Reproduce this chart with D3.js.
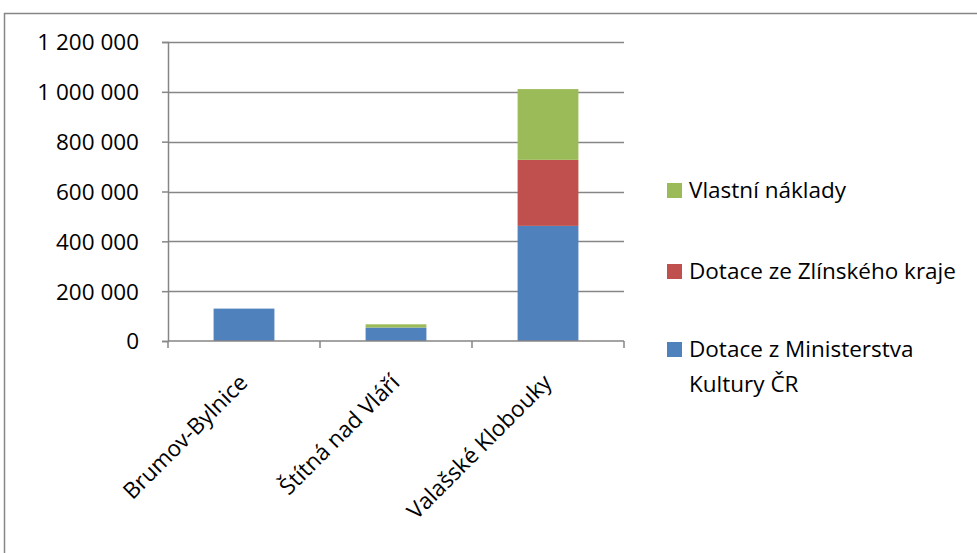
<!DOCTYPE html>
<html>
<head>
<meta charset="utf-8">
<script src="https://cdn.jsdelivr.net/npm/d3@7"></script>
<style>
  body { margin: 0; background: #fff; }
  text { font-family: "Open Sans", sans-serif; fill: #000; }
</style>
</head>
<body>
<div id="chart"></div>
<script>
// chart data
const categories = ["Brumov-Bylnice", "Štítná nad Vláří", "Valašské Klobouky"];
const seriesNames = ["Dotace z Ministerstva Kultury ČR", "Dotace ze Zlínského kraje", "Vlastní náklady"];
const ministerstvo = [130000, 54000, 462000];
const zlinsky = [0, 0, 265000];
const vlastni = [0, 13000, 284000];
const yTicks = [0, 200000, 400000, 600000, 800000, 1000000, 1200000];
const colors = ["#4F81BD", "#C0504D", "#9BBB59"];

const W = 977, H = 553;
const plot = {left: 168, right: 624, top: 42, bottom: 341};
const gridColor = "#868686";

const svg = d3.select("#chart").append("svg")
    .attr("width", W)
    .attr("height", H);

// outer chart frame (runs off the page on right and bottom)
svg.append("rect")
    .attr("x", 4.5).attr("y", 13.5)
    .attr("width", W + 10).attr("height", H + 10)
    .attr("fill", "none")
    .attr("stroke", gridColor)
    .attr("stroke-width", 1.5);

// table for d3.stack
const table = categories.map((c, i) => ({
    cat: c, s0: ministerstvo[i], s1: zlinsky[i], s2: vlastni[i]
}));
const stack = d3.stack().keys(["s0", "s1", "s2"]);
const layers = stack(table);

const x = d3.scaleBand()
    .domain(categories)
    .range([plot.left, plot.right])
    .paddingInner(0.6)
    .paddingOuter(0.3);

const y = d3.scaleLinear()
    .domain([0, 1200000])
    .range([plot.bottom, plot.top]);

const fmt = d3.formatLocale({decimal: ",", thousands: " ", grouping: [3], currency: ["", ""]}).format(",d");

// gridlines
svg.append("g")
    .selectAll("line")
    .data(yTicks.filter(d => d > 0))
    .join("line")
    .attr("x1", plot.left).attr("x2", plot.right)
    .attr("y1", d => Math.round(y(d)) + 0.5)
    .attr("y2", d => Math.round(y(d)) + 0.5)
    .attr("stroke", gridColor)
    .attr("stroke-width", 1.5);

// bars
svg.append("g")
    .selectAll("g")
    .data(layers)
    .join("g")
    .attr("fill", (d, i) => colors[i])
    .selectAll("rect")
    .data(d => d)
    .join("rect")
    .attr("x", d => x(d.data.cat))
    .attr("width", x.bandwidth())
    .attr("y", d => y(d[1]))
    .attr("height", d => y(d[0]) - y(d[1]));

// y axis
const yAxis = d3.axisLeft(y)
    .tickValues(yTicks)
    .tickSize(6)
    .tickPadding(23)
    .tickFormat(fmt);

const gy = svg.append("g")
    .attr("transform", `translate(${plot.left},0)`)
    .call(yAxis);
gy.select(".domain").attr("stroke", gridColor).attr("stroke-width", 1.5);
gy.selectAll(".tick line").attr("stroke", gridColor).attr("stroke-width", 1.5);
gy.selectAll(".tick text")
    .style("font-size", "22.5px")
    .attr("dy", "0.35em");

// x axis: line along zero plus ticks at band boundaries
const step = x.step();
const boundaries = d3.range(categories.length + 1).map(i => plot.left + i * step);
const gx = svg.append("g");
gx.append("line")
    .attr("x1", plot.left).attr("x2", plot.right)
    .attr("y1", y(0)).attr("y2", y(0))
    .attr("stroke", gridColor).attr("stroke-width", 1.5);
gx.selectAll(".xt")
    .data(boundaries)
    .join("line")
    .attr("class", "xt")
    .attr("x1", d => d).attr("x2", d => d)
    .attr("y1", y(0)).attr("y2", y(0) + 7)
    .attr("stroke", gridColor).attr("stroke-width", 1.5);

gx.selectAll(".xl")
    .data(categories)
    .join("text")
    .attr("class", "xl")
    .attr("text-anchor", "end")
    .attr("transform", d => `translate(${x(d) + x.bandwidth() / 2 + 5},${y(0) + 43}) rotate(-45)`)
    .style("font-size", "22.5px")
    .text(d => d);

// legend (reverse order: top series first)
const legendItems = [
    {name: "Vlastní náklady", color: colors[2], lines: ["Vlastní náklady"], y: 190},
    {name: "Dotace ze Zlínského kraje", color: colors[1], lines: ["Dotace ze Zlínského kraje"], y: 271},
    {name: seriesNames[0], color: colors[0], lines: ["Dotace z Ministerstva", "Kultury ČR"], y: 349}
];

const legend = svg.append("g");
const li = legend.selectAll("g")
    .data(legendItems)
    .join("g")
    .attr("transform", d => `translate(667,${d.y})`);
li.append("rect")
    .attr("x", 0).attr("y", -7)
    .attr("width", 15).attr("height", 15)
    .attr("fill", d => d.color);
li.append("text")
    .attr("x", 22)
    .attr("y", 0)
    .style("font-size", "22.5px")
    .selectAll("tspan")
    .data(d => d.lines)
    .join("tspan")
    .attr("x", 22)
    .attr("dy", (d, i) => i === 0 ? "0.35em" : "1.55em")
    .text(d => d);
</script>
</body>
</html>
